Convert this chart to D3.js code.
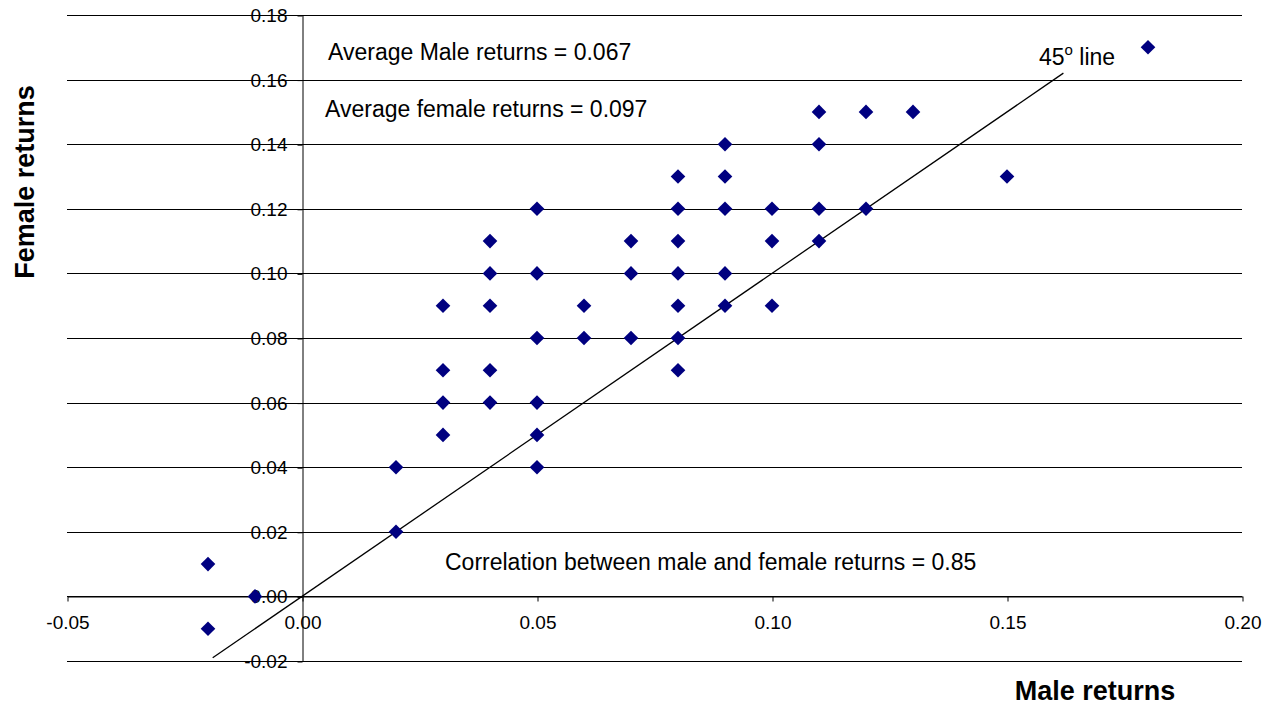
<!DOCTYPE html>
<html>
<head>
<meta charset="utf-8">
<script src="https://cdn.jsdelivr.net/npm/d3@7"></script>
<style>
  html, body { margin: 0; padding: 0; background: #fff; }
  svg { display: block; font-family: Arial, "Liberation Sans", sans-serif; }
</style>
</head>
<body>
<svg id="chart" width="1277" height="709"></svg>
<script>
// Data: male returns (x) and female returns (y)
const maleReturns = [
  -0.02, -0.02, -0.01,
  0.02, 0.02,
  0.03, 0.03, 0.03, 0.03,
  0.04, 0.04, 0.04, 0.04, 0.04,
  0.05, 0.05, 0.05, 0.05, 0.05, 0.05,
  0.06, 0.06,
  0.07, 0.07, 0.07,
  0.08, 0.08, 0.08, 0.08, 0.08, 0.08, 0.08,
  0.09, 0.09, 0.09, 0.09, 0.09,
  0.10, 0.10, 0.10,
  0.11, 0.11, 0.11, 0.11,
  0.12, 0.12,
  0.13,
  0.15,
  0.18
];
const femaleReturns = [
  0.01, -0.01, 0.00,
  0.04, 0.02,
  0.09, 0.07, 0.06, 0.05,
  0.11, 0.10, 0.09, 0.07, 0.06,
  0.12, 0.10, 0.08, 0.06, 0.05, 0.04,
  0.09, 0.08,
  0.11, 0.10, 0.08,
  0.13, 0.12, 0.11, 0.10, 0.09, 0.08, 0.07,
  0.14, 0.13, 0.12, 0.10, 0.09,
  0.12, 0.11, 0.09,
  0.15, 0.14, 0.12, 0.11,
  0.15, 0.12,
  0.15,
  0.13,
  0.17
];
const xTicks = [-0.05, 0.00, 0.05, 0.10, 0.15, 0.20];
const yTicks = [-0.02, 0.00, 0.02, 0.04, 0.06, 0.08, 0.10, 0.12, 0.14, 0.16, 0.18];
const lineEnds = [-0.019, 0.162]; // 45 degree line
const xDomain = [-0.05, 0.20];
const yDomain = [-0.02, 0.18];

const svg = d3.select("#chart");
const x = d3.scaleLinear().domain(xDomain).range([67, 1242]);
const y = d3.scaleLinear().domain(yDomain).range([661, 15]);
const px = v => Math.round(v) + 0.5;
const fmt = d => d3.format(".2f")(d).replace("\u2212", "-");

// Horizontal gridlines
svg.append("g").selectAll("line").data(yTicks).join("line")
  .attr("x1", x(xDomain[0])).attr("x2", x(xDomain[1]))
  .attr("y1", d => px(y(d))).attr("y2", d => px(y(d)))
  .attr("stroke", "#000").attr("stroke-width", 1);

// Y axis at x = 0
const yAxis = d3.axisLeft(y).tickValues(yTicks).tickFormat(fmt)
  .tickSizeInner(5).tickSizeOuter(0).tickPadding(10);
const gy = svg.append("g").attr("transform", `translate(${px(x(0))},0.5)`).call(yAxis);
gy.select(".domain").attr("stroke", "#000");
gy.selectAll(".tick line").attr("stroke", "#000");
gy.selectAll(".tick text").attr("font-size", 19).attr("fill", "#000")
  .attr("font-family", "Arial, 'Liberation Sans', sans-serif");

// X axis at y = 0
const xAxis = d3.axisBottom(x).tickValues(xTicks).tickFormat(fmt)
  .tickSizeInner(5).tickSizeOuter(0).tickPadding(14);
const gx = svg.append("g").attr("transform", `translate(0.5,${px(y(0))})`).call(xAxis);
gx.select(".domain").attr("stroke", "#000");
gx.selectAll(".tick line").attr("stroke", "#000");
gx.selectAll(".tick text").attr("font-size", 19).attr("fill", "#000")
  .attr("font-family", "Arial, 'Liberation Sans', sans-serif");

// 45 degree line
svg.append("line")
  .attr("x1", x(lineEnds[0])).attr("y1", y(lineEnds[0]))
  .attr("x2", x(lineEnds[1])).attr("y2", y(lineEnds[1]))
  .attr("stroke", "#000").attr("stroke-width", 1.3);

// Points (diamonds)
const pts = maleReturns.map((m, i) => ({ m, f: femaleReturns[i] }));
const r = 7.3;
svg.append("g").selectAll("path").data(pts).join("path")
  .attr("d", d => {
    const cx = x(d.m), cy = y(d.f);
    return `M${cx},${cy - r}L${cx + r},${cy}L${cx},${cy + r}L${cx - r},${cy}Z`;
  })
  .attr("fill", "#000080");

// Annotations
const ann = svg.append("g").attr("font-size", 23).attr("fill", "#000");
ann.append("text").attr("x", 328).attr("y", 60).text("Average Male returns = 0.067");
ann.append("text").attr("x", 325).attr("y", 117).text("Average female returns = 0.097");
ann.append("text").attr("x", 445).attr("y", 570).text("Correlation between male and female returns = 0.85");
const t45 = ann.append("text").attr("x", 1039).attr("y", 65);
t45.append("tspan").text("45");
t45.append("tspan").attr("font-size", 15).attr("dy", -10).text("o");
t45.append("tspan").attr("dy", 10).text(" line");

// Axis titles
svg.append("text").attr("x", 1095).attr("y", 700).attr("text-anchor", "middle")
  .attr("font-size", 27).attr("font-weight", "bold").text("Male returns");
svg.append("text").attr("transform", "translate(34,182) rotate(-90)")
  .attr("text-anchor", "middle").attr("font-size", 27).attr("font-weight", "bold")
  .text("Female returns");
</script>
</body>
</html>
